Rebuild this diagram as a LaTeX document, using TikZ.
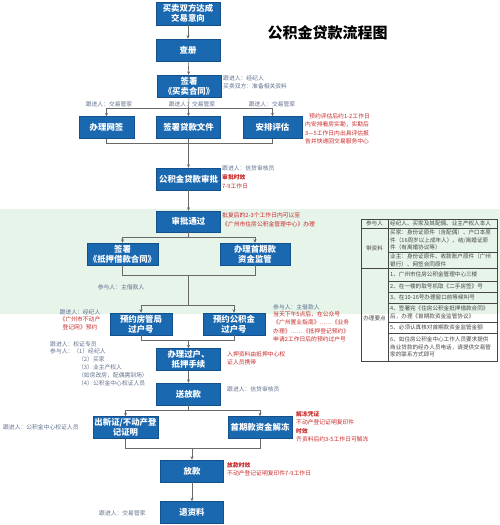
\documentclass[tikz,border=0pt]{standalone}
\usepackage{fontspec}
\setmainfont{Noto Sans CJK SC}
\usetikzlibrary{arrows.meta}
\definecolor{boxblue}{RGB}{26,104,176}
\definecolor{boxedge}{RGB}{20,80,140}
\definecolor{labgrey}{RGB}{95,112,140}
\definecolor{notered}{RGB}{200,40,40}
\definecolor{bandgreen}{RGB}{230,244,234}
\definecolor{linegrey}{RGB}{105,105,105}
\definecolor{tblgrey}{RGB}{70,70,70}
\begin{document}
\begin{tikzpicture}[x=1pt,y=-1pt,
  box/.style={draw=boxedge, line width=0.4pt, fill=boxblue, text=white,
    font=\bfseries\fontsize{8.4}{10}\selectfont, align=center, inner sep=0pt,
    minimum width=64, minimum height=22},
  lab/.style={text=labgrey, font=\fontsize{5.8}{7.8}\selectfont, inner sep=0pt, align=left},
  rednote/.style={text=notered, font=\fontsize{5.8}{8.5}\selectfont, inner sep=0pt, align=left},
  tbltext/.style={text=tblgrey, font=\fontsize{5.6}{7.8}\selectfont, inner sep=0pt, align=left},
  arr/.style={draw=linegrey, line width=0.6pt, -{Stealth[length=3.5pt,width=3pt]}},
  ln/.style={draw=linegrey, line width=0.6pt},
  tbl/.style={draw=tblgrey, line width=0.4pt}]
\useasboundingbox (0,0) rectangle (500,525);
% green band
\fill[bandgreen] (0,209) rectangle (500,314);

% title
\node[font=\bfseries\fontsize{15}{17}\selectfont, inner sep=0pt] (title) at (327.5,32.5) {公积金贷款流程图};

% main boxes
\node[box, minimum height=23] (n1) at (188,13.5) {买卖双方达成\\交易意向};
\node[box] (n2) at (188,50) {查册};
\node[box] (n3) at (189,86) {签署\\《买卖合同》};
\node[box, minimum width=55] (wq) at (106.5,127.5) {办理网签};
\node[box] (dk) at (188.5,127.5) {签署贷款文件};
\node[box, minimum width=59] (pg) at (272.5,127.5) {安排评估};
\node[box] (sp) at (188.5,179) {公积金贷款审批};
\node[box, minimum height=21] (tg) at (188.5,221.5) {审批通过};
\node[box, minimum width=71] (dy) at (122.5,254) {签署\\《抵押借款合同》};
\node[box, minimum width=70] (jg) at (255,254) {办理首期款\\资金监管};
\node[box, minimum width=62] (yf) at (141,324) {预约房管局\\过户号};
\node[box, minimum width=62] (yg) at (234,324) {预约公积金\\过户号};
\node[box] (gh) at (188.5,359.5) {办理过户、\\抵押手续};
\node[box] (sfk) at (188.5,394) {送放款};
\node[box, minimum width=65] (cx) at (125.5,427.5) {出新证/不动产登\\记证明};
\node[box] (jd) at (260,427.5) {首期款资金解冻};
\node[box, minimum width=63] (fk) at (192,471) {放款};
\node[box, minimum width=63] (tz) at (192,512.5) {退资料};

% connectors
\draw[arr] (n1) -- (n2);
\draw[arr] (n2) -- (n3);
\coordinate (b1) at (188.5,108);
\draw[ln] (n3.south) -- (b1);
\draw[arr] (b1) -| (wq.north);
\draw[arr] (b1) -| (pg.north);
\draw[arr] (b1) -- (dk.north);
\coordinate (m1) at (188.5,143);
\draw[ln] (wq.south) |- (m1);
\draw[ln] (pg.south) |- (m1);
\draw[arr] (dk.south) -- (sp.north);
\draw[arr] (sp) -- (tg);
\coordinate (b2) at (188.5,237);
\draw[ln] (tg.south) -- (b2);
\draw[arr] (b2) -| (dy.north);
\draw[arr] (b2) -| (jg.north);
\coordinate (m2) at (188.5,275);
\draw[ln] (dy.south) |- (m2);
\draw[ln] (jg.south) |- (m2);
\coordinate (b3) at (188.5,305);
\draw[ln] (m2) -- (b3);
\draw[arr] (b3) -| (yf.north);
\draw[arr] (b3) -| (yg.north);
\coordinate (m3) at (188.5,340);
\draw[ln] (yf.south) |- (m3);
\draw[ln] (yg.south) |- (m3);
\draw[arr] (m3) -- (gh.north);
\draw[arr] (gh) -- (sfk);
\coordinate (b4) at (188.5,410);
\draw[ln] (sfk.south) -- (b4);
\draw[arr] (b4) -| (cx.north);
\draw[arr] (b4) -| (jd.north);
\coordinate (m4) at (192,448);
\draw[ln] (cx.south) |- (m4);
\draw[ln] (jd.south) |- (m4);
\draw[arr] (m4) -- (fk.north);
\draw[arr] (fk) -- (tz);

% labels
\node[lab, anchor=west] (l1) at (223,82) {跟进人：经纪人\\买卖双方：准备相关资料};
\node[lab] (l2) at (109,104) {跟进人：交易管家};
\node[lab] (l3) at (192,104) {跟进人：交易管家};
\node[lab] (l4) at (272,104) {跟进人：交易管家};
\node[rednote, anchor=north west] (r1) at (305,113) {\hspace{4pt}预约评估后约1-2工作日\\内安排看房实勘，实勘后\\3—5工作日内出具评估报\\告并快递回交易服务中心};
\node[lab, anchor=west] (l5) at (222,168) {跟进人：信贷审核员};
\node[rednote, anchor=west, font=\bfseries\fontsize{5.8}{7}\selectfont] (r2) at (222,177) {审批时效};
\node[rednote, anchor=west] (r3) at (222,186) {7-9工作日};
\node[rednote, anchor=west] (r4) at (222,220) {批复后的2-3个工作日内可以至\\《广州市住房公积金管理中心》办理};
\node[lab] (l6) at (121,287) {参与人：主借款人};
\node[lab, anchor=north, align=center] (l7) at (80,309) {跟进人：经纪人\\\textcolor{notered}{《广州市不动产}\\\textcolor{notered}{登记网》预约}};
\node[lab, anchor=west] (l8) at (273,307) {参与人：主借款人};
\node[rednote, anchor=north west] (r5) at (273,311) {当天下午5点后，在公众号\\《广州置业指南》……《业务\\办理》……《抵押登记预约》\\申请2工作日后的预约过户号};
\node[lab, anchor=north west] (l9) at (50,341) {跟进人：权证专员\\参与人：（1）经纪人\\\hspace{28pt}（2）买家\\\hspace{28pt}（3）业主产权人\\\hspace{28pt}（如房改房，配偶需到场）\\\hspace{28pt}（4）公积金中心权证人员};
\node[rednote, anchor=west] (r6) at (227,358.5) {入押资料由抵押中心权\\证人员携带};
\node[lab, anchor=west] (l10) at (227,389) {跟进人：信贷审核员};
\node[lab, anchor=west] (l11) at (3,427) {跟进人：公积金中心权证人员};
\node[rednote, anchor=north west] (r7) at (296,411) {\textbf{解冻凭证}\\不动产登记证明复印件\\\textbf{时效}\\齐资料后约3-5工作日可解冻};
\node[rednote, anchor=north west] (r8) at (227,462) {\textbf{放款时效}\\不动产登记证明复印件7-9工作日};
\node[lab, anchor=west] (l12) at (99,513) {跟进人：交易管家};

% table
\draw[tbl] (361,219) rectangle (497,361);
\draw[tbl] (388,219) -- (388,361);
\draw[tbl] (361,228) -- (497,228);
\draw[tbl] (361,268) -- (497,268);
\foreach \yy in {252,281,292,303,322,333} \draw[tbl] (388,\yy) -- (497,\yy);
\node[tbltext] (c1) at (374.5,223.5) {参与人};
\node[tbltext] (c2) at (374.5,248) {带资料};
\node[tbltext] (c3) at (374.5,318) {办理要点};
\node[tbltext, anchor=west] (t1) at (390,223.5) {经纪人、买家及其配偶、业主产权人本人};
\node[tbltext, anchor=west] (t2) at (390,240) {买家：身份证原件（含配偶）、户口本原\\件（16周岁以上成年人）、结/离婚证原\\件（有离婚协议等）};
\node[tbltext, anchor=west] (t3) at (390,260) {业主：身份证原件、收款账户原件（广州\\银行）、网签合同原件};
\node[tbltext, anchor=west] (t4) at (390,274.5) {1、广州市住房公积金管理中心三楼};
\node[tbltext, anchor=west] (t5) at (390,286.5) {2、在一楼的取号机取《二手房签》号};
\node[tbltext, anchor=west] (t6) at (390,297.5) {3、在10-16号办理窗口前等候叫号};
\node[tbltext, anchor=west] (t7) at (390,312.5) {4、签署完《住房公积金抵押借款合同》\\后，办理《首期款资金监管协议》};
\node[tbltext, anchor=west] (t8) at (390,327.5) {5、必须认真核对首期款资金监管金额};
\node[tbltext, anchor=west] (t9) at (390,347) {6、如住房公积金中心工作人员要求提供\\商业贷款的经办人员电话，请提供交易管\\家的联系方式即可};
\end{tikzpicture}
\end{document}
